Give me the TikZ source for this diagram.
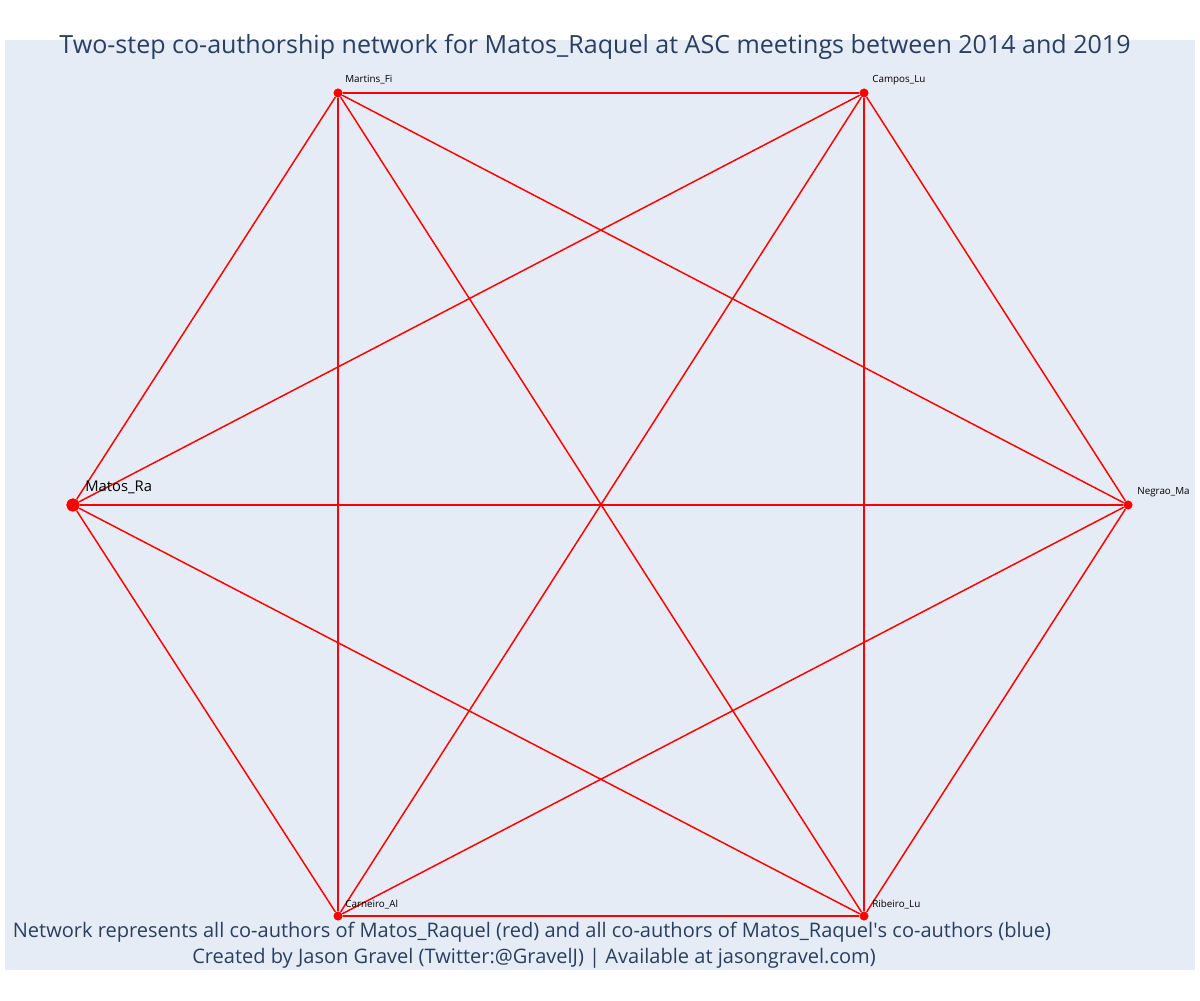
\documentclass[tikz,border=0pt]{standalone}
\usepackage{fontspec}
\setmainfont{Open Sans}
\definecolor{plotbg}{HTML}{E5ECF6}
\definecolor{plotink}{HTML}{2A3F5F}
\definecolor{coauthred}{HTML}{FF0000}

\begin{document}
\begin{tikzpicture}[x=0.2mm, y=-0.2mm, line cap=round,
  author/.style={circle, fill=coauthred, draw=white, line width=0.3pt,
    inner sep=0pt, minimum size=2mm},
  mainauthor/.style={author, minimum size=2.8mm},
  namelbl/.style={anchor=base west, inner sep=0pt, font=\fontsize{5.6}{6}\selectfont},
  tie/.style={coauthred, line width=0.85pt}]
  \useasboundingbox (0,0) rectangle (1200,1000);
  \fill[plotbg] (5,40) rectangle (1195,970);
  % title and captions
  \node[plotink, font=\fontsize{14.25}{16}\selectfont, anchor=base] (title) at (595,53)
    {Two-step co-authorship network for Matos\_Raquel at ASC meetings between 2014 and 2019};
  \node[plotink, font=\fontsize{11.4}{13}\selectfont, anchor=base] (cap1) at (532,937)
    {Network represents all co-authors of Matos\_Raquel (red) and all co-authors of Matos\_Raquel\textquotesingle s co-authors (blue)};
  \node[plotink, font=\fontsize{11.4}{13}\selectfont, anchor=base] (cap2) at (534,963)
    {Created by Jason Gravel (Twitter:@GravelJ) | Available at jasongravel.com)};
  % authors
  \node[mainauthor] (mra) at (73,505) {};
  \node[author] (mfi) at (338,93) {};
  \node[author] (clu) at (864,93) {};
  \node[author] (nma) at (1128,505) {};
  \node[author] (rlu) at (864,916) {};
  \node[author] (cal) at (338,916) {};
  % co-authorship ties
  \foreach \a/\b in {mra/mfi, mra/clu, mra/nma, mra/rlu, mra/cal,
                     mfi/clu, mfi/nma, mfi/rlu, mfi/cal,
                     clu/nma, clu/rlu, clu/cal,
                     nma/rlu, nma/cal, rlu/cal}
    \draw[tie] (\a) -- (\b);
  % names
  \node[namelbl, font=\fontsize{8.4}{10}\selectfont] (lmra) at (85,491) {Matos\_Ra};
  \node[namelbl] (lmfi) at (345,82) {Martins\_Fi};
  \node[namelbl] (lclu) at (872,82) {Campos\_Lu};
  \node[namelbl] (lnma) at (1137,494) {Negrao\_Ma};
  \node[namelbl] (lrlu) at (872,907) {Ribeiro\_Lu};
  \node[namelbl] (lcal) at (345,907) {Carneiro\_Al};
\end{tikzpicture}
\end{document}
